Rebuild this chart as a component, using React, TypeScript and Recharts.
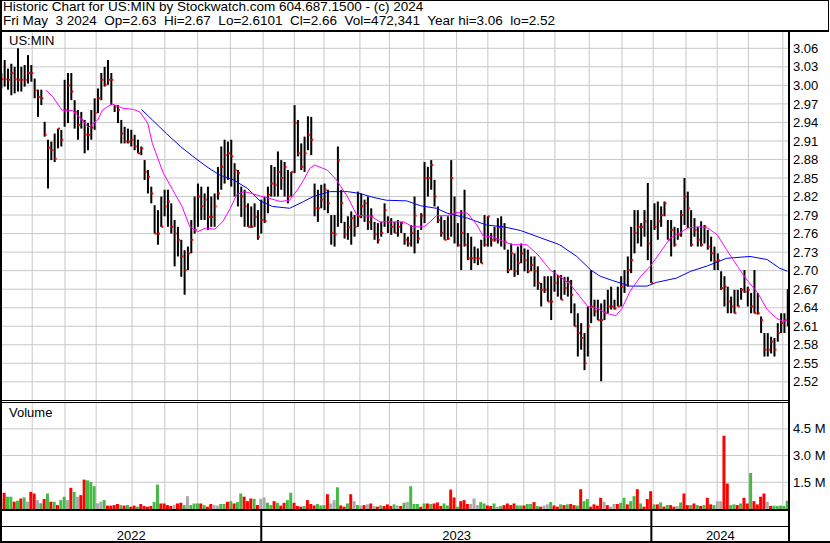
import React from "react";
import {
  ComposedChart,
  LineChart,
  Bar,
  Line,
  Scatter,
  XAxis,
  YAxis,
  CartesianGrid,
  Cell,
} from "recharts";

// one bar every ~2 trading days, May 3 2022 .. May 3 2024 (day 0 .. 504)
const LAST_DAY = 504;

const highs = [
  3.020, 3.041, 3.027, 3.035, 3.030, 3.060, 3.030, 3.033, 3.049, 3.033,
  3.011, 2.993, 2.993, 2.941, 2.912, 2.909, 2.922, 2.930, 2.928, 3.009,
  3.020, 3.020, 2.976, 2.960, 2.957, 2.944, 2.939, 2.960, 2.979, 2.995,
  3.020, 3.030, 3.041, 3.020, 2.968, 2.968, 2.944, 2.933, 2.930, 2.928,
  2.920, 2.912, 2.901, 2.879, 2.863, 2.836, 2.806, 2.798, 2.820, 2.831,
  2.831, 2.809, 2.782, 2.771, 2.750, 2.733, 2.739, 2.782, 2.820, 2.841,
  2.836, 2.825, 2.836, 2.820, 2.825, 2.868, 2.901, 2.912, 2.909, 2.912,
  2.874, 2.863, 2.836, 2.831, 2.809, 2.804, 2.809, 2.798, 2.815, 2.820,
  2.836, 2.871, 2.868, 2.893, 2.879, 2.876, 2.863, 2.860, 2.968, 2.944,
  2.906, 2.917, 2.950, 2.949, 2.841, 2.831, 2.839, 2.841, 2.831, 2.790,
  2.790, 2.901, 2.831, 2.779, 2.788, 2.796, 2.790, 2.828, 2.825, 2.815,
  2.820, 2.801, 2.779, 2.777, 2.779, 2.809, 2.788, 2.785, 2.779, 2.782,
  2.779, 2.761, 2.755, 2.774, 2.820, 2.766, 2.793, 2.876, 2.868, 2.879,
  2.847, 2.804, 2.788, 2.782, 2.788, 2.879, 2.820, 2.777, 2.798, 2.831,
  2.761, 2.755, 2.739, 2.736, 2.750, 2.790, 2.788, 2.761, 2.771, 2.785,
  2.788, 2.777, 2.734, 2.744, 2.728, 2.739, 2.744, 2.736, 2.734, 2.723,
  2.723, 2.707, 2.680, 2.691, 2.691, 2.691, 2.701, 2.693, 2.693, 2.690,
  2.690, 2.685, 2.647, 2.631, 2.615, 2.599, 2.642, 2.701, 2.653, 2.653,
  2.647, 2.653, 2.669, 2.674, 2.653, 2.674, 2.691, 2.701, 2.723, 2.771,
  2.798, 2.798, 2.777, 2.798, 2.842, 2.782, 2.809, 2.812, 2.804, 2.812,
  2.782, 2.782, 2.771, 2.769, 2.798, 2.850, 2.828, 2.798, 2.785, 2.771,
  2.780, 2.774, 2.766, 2.755, 2.739, 2.728, 2.699, 2.691, 2.674, 2.658,
  2.669, 2.669, 2.672, 2.701, 2.674, 2.664, 2.701, 2.664, 2.626, 2.599,
  2.599, 2.593, 2.591, 2.615, 2.631, 2.631, 2.670,
];

const lows = [
  2.995, 2.998, 2.993, 2.984, 2.987, 2.990, 2.990, 2.998, 3.003, 3.006,
  2.979, 2.949, 2.968, 2.917, 2.833, 2.879, 2.876, 2.898, 2.901, 2.933,
  2.939, 2.976, 2.930, 2.912, 2.930, 2.890, 2.895, 2.912, 2.928, 2.955,
  2.976, 2.998, 3.001, 2.968, 2.957, 2.939, 2.906, 2.906, 2.906, 2.901,
  2.895, 2.890, 2.887, 2.847, 2.825, 2.809, 2.760, 2.742, 2.771, 2.788,
  2.771, 2.760, 2.707, 2.723, 2.690, 2.661, 2.701, 2.728, 2.760, 2.771,
  2.782, 2.782, 2.766, 2.771, 2.771, 2.815, 2.831, 2.841, 2.847, 2.836,
  2.820, 2.804, 2.787, 2.771, 2.771, 2.769, 2.771, 2.750, 2.760, 2.777,
  2.793, 2.820, 2.820, 2.820, 2.831, 2.820, 2.809, 2.820, 2.858, 2.885,
  2.863, 2.860, 2.895, 2.887, 2.788, 2.779, 2.801, 2.798, 2.793, 2.742,
  2.739, 2.771, 2.777, 2.752, 2.750, 2.742, 2.755, 2.771, 2.785, 2.779,
  2.766, 2.766, 2.750, 2.744, 2.755, 2.771, 2.761, 2.758, 2.761, 2.755,
  2.761, 2.742, 2.739, 2.739, 2.728, 2.744, 2.766, 2.777, 2.820, 2.831,
  2.804, 2.777, 2.755, 2.750, 2.750, 2.755, 2.744, 2.739, 2.701, 2.739,
  2.717, 2.701, 2.712, 2.709, 2.712, 2.739, 2.739, 2.739, 2.747, 2.744,
  2.739, 2.734, 2.696, 2.701, 2.690, 2.693, 2.712, 2.699, 2.696, 2.699,
  2.674, 2.669, 2.642, 2.664, 2.650, 2.620, 2.666, 2.658, 2.653, 2.661,
  2.658, 2.631, 2.610, 2.561, 2.572, 2.539, 2.561, 2.615, 2.626, 2.620,
  2.521, 2.620, 2.631, 2.637, 2.637, 2.642, 2.642, 2.664, 2.674, 2.696,
  2.728, 2.744, 2.739, 2.755, 2.717, 2.680, 2.766, 2.750, 2.771, 2.788,
  2.750, 2.723, 2.739, 2.750, 2.755, 2.774, 2.769, 2.739, 2.755, 2.739,
  2.739, 2.744, 2.734, 2.715, 2.701, 2.701, 2.669, 2.642, 2.631, 2.631,
  2.631, 2.642, 2.653, 2.664, 2.642, 2.631, 2.631, 2.629, 2.599, 2.561,
  2.561, 2.566, 2.561, 2.585, 2.599, 2.599, 2.610,
];

const closes = [
  3.010, 3.010, 3.009, 3.020, 3.010, 3.009, 3.009, 3.009, 3.020, 3.020,
  2.992, 2.981, 2.979, 2.920, 2.899, 2.895, 2.881, 2.930, 2.912, 2.960,
  3.000, 2.990, 2.957, 2.936, 2.944, 2.920, 2.920, 2.932, 2.955, 2.979,
  3.009, 3.001, 3.009, 3.009, 2.966, 2.960, 2.922, 2.909, 2.909, 2.912,
  2.901, 2.890, 2.898, 2.860, 2.852, 2.825, 2.760, 2.760, 2.771, 2.804,
  2.812, 2.771, 2.760, 2.750, 2.723, 2.701, 2.728, 2.750, 2.766, 2.820,
  2.804, 2.815, 2.787, 2.787, 2.804, 2.825, 2.868, 2.887, 2.890, 2.885,
  2.863, 2.858, 2.820, 2.804, 2.771, 2.771, 2.787, 2.755, 2.782, 2.780,
  2.823, 2.841, 2.839, 2.860, 2.850, 2.868, 2.820, 2.860, 2.939, 2.890,
  2.868, 2.890, 2.920, 2.912, 2.801, 2.801, 2.815, 2.831, 2.809, 2.761,
  2.759, 2.879, 2.809, 2.759, 2.770, 2.785, 2.771, 2.788, 2.804, 2.809,
  2.779, 2.788, 2.759, 2.750, 2.761, 2.798, 2.779, 2.771, 2.761, 2.771,
  2.777, 2.750, 2.744, 2.761, 2.789, 2.752, 2.789, 2.850, 2.850, 2.871,
  2.820, 2.782, 2.761, 2.750, 2.752, 2.850, 2.793, 2.741, 2.761, 2.742,
  2.720, 2.720, 2.720, 2.720, 2.712, 2.742, 2.788, 2.750, 2.750, 2.770,
  2.771, 2.747, 2.701, 2.728, 2.699, 2.712, 2.728, 2.717, 2.699, 2.709,
  2.699, 2.680, 2.669, 2.669, 2.650, 2.650, 2.680, 2.690, 2.653, 2.672,
  2.682, 2.661, 2.610, 2.599, 2.591, 2.550, 2.610, 2.642, 2.634, 2.620,
  2.620, 2.631, 2.642, 2.642, 2.639, 2.642, 2.674, 2.677, 2.701, 2.717,
  2.761, 2.771, 2.771, 2.780, 2.744, 2.680, 2.771, 2.780, 2.790, 2.809,
  2.750, 2.766, 2.742, 2.758, 2.790, 2.820, 2.801, 2.742, 2.766, 2.750,
  2.742, 2.771, 2.739, 2.728, 2.715, 2.717, 2.672, 2.674, 2.650, 2.642,
  2.631, 2.642, 2.669, 2.666, 2.669, 2.642, 2.631, 2.631, 2.620, 2.572,
  2.572, 2.585, 2.572, 2.599, 2.615, 2.620, 2.660,
];

// volume in millions
const volumes = [
  0.59, 0.91, 0.69, 0.69, 0.41, 0.46, 0.59, 0.65, 0.41, 0.96,
  0.87, 0.50, 0.32, 0.56, 0.87, 0.41, 0.41, 0.22, 0.50, 0.69,
  0.50, 1.19, 0.96, 0.69, 0.78, 1.65, 1.61, 1.52, 1.28, 0.32,
  0.41, 0.50, 0.19, 0.19, 0.22, 0.28, 0.22, 0.19, 0.22, 0.13,
  0.19, 0.13, 0.28, 0.17, 0.13, 0.17, 0.39, 1.37, 0.31, 0.31,
  0.22, 0.17, 0.22, 0.31, 0.35, 0.22, 0.72, 0.22, 0.31, 0.31,
  0.31, 0.22, 0.13, 0.28, 0.22, 0.19, 0.28, 0.28, 0.41, 0.44,
  0.31, 0.39, 0.87, 0.69, 0.44, 0.59, 0.57, 0.22, 0.57, 0.65,
  0.35, 0.22, 0.44, 0.35, 0.19, 0.35, 0.50, 0.91, 0.35, 0.17,
  0.13, 0.17, 0.50, 0.28, 0.20, 0.28, 0.20, 0.22, 0.83, 0.31,
  0.50, 1.22, 0.20, 0.13, 0.31, 0.83, 0.44, 0.22, 0.19, 0.22,
  0.26, 0.31, 0.17, 0.13, 0.20, 0.17, 0.26, 0.17, 0.26, 0.20,
  0.17, 0.35, 0.39, 1.28, 0.28, 0.28, 0.13, 0.31, 0.31, 0.28,
  0.31, 0.37, 0.17, 0.31, 0.20, 1.09, 0.65, 0.13, 0.44, 0.50,
  0.28, 0.28, 0.59, 0.22, 0.39, 0.31, 0.20, 0.17, 0.31, 0.13,
  0.17, 0.22, 0.31, 0.22, 0.31, 0.20, 0.20, 0.20, 0.28, 0.28,
  0.39, 0.17, 0.13, 0.20, 0.26, 0.39, 0.20, 0.13, 0.26, 0.22,
  0.26, 0.28, 0.22, 0.19, 1.11, 0.44, 0.56, 0.13, 0.26, 0.19,
  0.63, 0.41, 0.22, 0.13, 0.28, 0.28, 0.35, 0.63, 0.26, 0.44,
  0.72, 1.11, 0.31, 0.13, 0.56, 1.00, 0.26, 0.26, 0.37, 0.13,
  0.22, 0.22, 0.13, 0.17, 0.37, 0.87, 0.22, 0.22, 0.31, 0.22,
  0.17, 0.22, 0.63, 0.26, 0.22, 0.44, 0.44, 4.11, 1.43, 0.22,
  0.26, 0.22, 0.31, 0.63, 0.31, 2.02, 0.44, 0.26, 0.69, 0.87,
  0.41, 0.17, 0.19, 0.17, 0.19, 0.17, 0.47,
];

// r = down, g = up, n = unchanged
const volColors =
  "nrggrgrgnr" + "rngrgrgrgg" + "nrgnrrgggn" + "ngrrrrgrgr" + "rgrrrrggrr" +
  "rrnrrgnggg" + "rgrrnnggrg" + "rggrrrgrnn" + "ggrgrrggrr" + "rgrrrgggrn" +
  "ngrrgrngnr" + "nrnrgrrrgn" + "rgngggrgrg" + "rrrggrrgrr" + "rnnnggrrgn" +
  "grrrrggrgg" + "rgrnngrrgr" + "grrgrggrrr" + "rnrnnrggrg" + "grgrrrgrgr" +
  "grrngrrgrg" + "rgrrgnnrrg" + "grgrrgrrrr" + "nrggggg";

// moving averages: [trading day, value]
const fastAvg = [
  [29, 2.992], [33, 2.982], [39, 2.960], [46, 2.959], [51, 2.947], [56, 2.932],
  [62, 2.944], [65, 2.960], [71, 2.970], [74, 2.967], [78, 2.963], [85, 2.961],
  [89, 2.957], [94, 2.939], [97, 2.906], [104, 2.858], [110, 2.831], [116, 2.804],
  [121, 2.771], [126, 2.763], [131, 2.769], [137, 2.767], [142, 2.779], [147, 2.801],
  [151, 2.823], [156, 2.828], [162, 2.824], [166, 2.821], [172, 2.817], [179, 2.812],
  [185, 2.814], [190, 2.831], [194, 2.847], [198, 2.866], [201, 2.871], [209, 2.863],
  [215, 2.847], [222, 2.820], [228, 2.790], [237, 2.788], [243, 2.779], [251, 2.779],
  [258, 2.779], [264, 2.771], [271, 2.771], [275, 2.779], [279, 2.789], [286, 2.789],
  [292, 2.794], [299, 2.793], [305, 2.774], [309, 2.756], [315, 2.755], [322, 2.747],
  [328, 2.742], [337, 2.742], [344, 2.726], [352, 2.701], [358, 2.691], [365, 2.677],
  [371, 2.658], [376, 2.642], [382, 2.639], [388, 2.631], [394, 2.627], [398, 2.639],
  [403, 2.666], [410, 2.691], [416, 2.707], [422, 2.728], [429, 2.753], [435, 2.761],
  [440, 2.769], [448, 2.771], [453, 2.769], [459, 2.758], [465, 2.734], [472, 2.707],
  [478, 2.685], [485, 2.664], [491, 2.637], [497, 2.623], [501, 2.618], [504, 2.620],
];

const slowAvg = [
  [90, 2.961], [97, 2.944], [106, 2.922], [115, 2.901], [123, 2.885], [132, 2.868],
  [140, 2.855], [149, 2.847], [158, 2.833], [166, 2.813], [174, 2.804], [185, 2.801],
  [194, 2.812], [200, 2.820], [211, 2.828], [222, 2.828], [230, 2.825], [238, 2.819],
  [247, 2.814], [260, 2.813], [269, 2.805], [279, 2.801], [286, 2.793], [299, 2.785],
  [311, 2.774], [322, 2.771], [333, 2.765], [346, 2.753], [358, 2.742], [369, 2.723],
  [378, 2.701], [384, 2.691], [392, 2.684], [403, 2.675], [414, 2.675], [420, 2.681],
  [433, 2.688], [442, 2.699], [453, 2.708], [465, 2.720], [480, 2.723], [491, 2.718],
  [499, 2.704], [504, 2.699],
];

const priceTicks = [
  2.52, 2.55, 2.58, 2.61, 2.64, 2.67, 2.7, 2.73, 2.76, 2.79,
  2.82, 2.85, 2.88, 2.91, 2.94, 2.97, 3.0, 3.03, 3.06,
];
const volTicks = [1.5, 3.0, 4.5];

// first trading day of each month
const monthStarts = [
  20, 41, 61, 84, 105, 126, 147, 168, 188, 207, 230, 249,
  271, 292, 312, 335, 355, 377, 398, 418, 439, 459, 479, 501,
];
const yearBreaks = [167, 417];
const yearLabels = ["2022", "2023", "2024"];

const W = 830;
const PRICE_H = 368;
const VOL_H = 106;
const AXIS_W = 41;
const X_DOMAIN: [number, number] = [0, 505];
const PRICE_DOMAIN: [number, number] = [2.4906, 3.0864];
const VOL_DOMAIN: [number, number] = [0, 5.95];
const GRID = "#c8c8c8";
const FONT = '"Liberation Sans", Arial, Helvetica, sans-serif';
const COLORS: Record<string, string> = { r: "#ff0000", g: "#44b944", n: "#aaaaaa" };

const bars = highs.map((hi, i) => ({
  day: (i * LAST_DAY) / (highs.length - 1),
  hi,
  lo: lows[i],
  close: closes[i],
  range: [lows[i], hi],
  vol: volumes[i],
  color: COLORS[volColors[i]] || COLORS.n,
}));

const fastLine = fastAvg.map(([day, v]) => ({ day, v }));
const slowLine = slowAvg.map(([day, v]) => ({ day, v }));

// year strip: separators as full-height bars, labels centred between them
const edges = [X_DOMAIN[0], ...yearBreaks, X_DOMAIN[1]];
const stripRows: any[] = [
  ...yearBreaks.map((day) => ({ day, span: [0, 1] })),
  ...yearLabels.map((label, i) => ({ day: (edges[i] + edges[i + 1]) / 2, pos: 0, label })),
].sort((a, b) => a.day - b.day);

// hi-lo stick with the close as a small red tick
const OhlcBar = (props: any) => {
  const { x, y, width, height } = props;
  const p = props.payload || props;
  if (x == null || y == null || !p) return null;
  const top = Math.min(y, y + height);
  const h = Math.max(Math.abs(height), 1);
  const span = p.hi - p.lo;
  const yc = span > 0 ? top + ((p.hi - p.close) / span) * h : top;
  return (
    <g>
      <rect x={x} y={top} width={width} height={h} fill="#000" />
      <rect x={x + width - 1} y={yc - 1} width={2} height={2} fill="#ff0000" />
    </g>
  );
};

const YearText = (props: any) => {
  const { cx, cy, payload } = props;
  if (!payload || !payload.label || cx == null || cy == null || isNaN(cy)) return null;
  return (
    <text x={cx} y={cy - 2} textAnchor="middle" fontSize={13} fill="#000">
      {payload.label}
    </text>
  );
};

function AvgOverlay({ data, color }: { data: any[]; color: string }) {
  return (
    <LineChart
      width={W}
      height={PRICE_H}
      data={data}
      margin={{ top: 0, right: AXIS_W, bottom: 0, left: 1 }}
    >
      <XAxis type="number" dataKey="day" domain={X_DOMAIN} hide />
      <YAxis domain={PRICE_DOMAIN} hide allowDataOverflow />
      <Line
        type="linear"
        dataKey="v"
        stroke={color}
        strokeWidth={1}
        dot={false}
        isAnimationActive={false}
      />
    </LineChart>
  );
}

const Rule = ({ l, t, w, h }: { l: number; t: number; w: number; h: number }) => (
  <div style={{ position: "absolute", left: l, top: t, width: w, height: h, background: "#000" }} />
);

const abs = (left: number, top: number): React.CSSProperties => ({
  position: "absolute",
  left,
  top,
});

export default function App() {
  return (
    <div
      style={{
        position: "absolute",
        left: 0,
        top: 0,
        width: W,
        height: 543,
        background: "#fff",
        fontFamily: FONT,
        fontSize: 13,
        color: "#000",
        overflow: "hidden",
      }}
    >
      {/* header box */}
      <div
        style={{
          ...abs(0, 0),
          width: 829,
          height: 32,
          boxSizing: "border-box",
          borderTop: "1px solid #000",
          borderRight: "1px solid #000",
          borderBottom: "2px solid #000",
        }}
      />
      <div style={{ ...abs(3, 0), fontSize: 13.5, lineHeight: "13px", whiteSpace: "pre" }}>
        Historic Chart for US:MIN by Stockwatch.com 604.687.1500 - (c) 2024
      </div>
      <div style={{ ...abs(3, 14), fontSize: 13.5, lineHeight: "14px", whiteSpace: "pre" }}>
        {"Fri May  3 2024  Op=2.63  Hi=2.67  Lo=2.6101  Cl=2.66  Vol=472,341  Year hi=3.06  lo=2.52"}
      </div>

      {/* price panel */}
      <div style={abs(0, 32)}>
        <ComposedChart
          width={W}
          height={PRICE_H}
          data={bars}
          margin={{ top: 0, right: 0, bottom: 0, left: 1 }}
        >
          <CartesianGrid
            stroke={GRID}
            horizontalValues={priceTicks}
            verticalValues={monthStarts}
          />
          <XAxis type="number" dataKey="day" domain={X_DOMAIN} hide />
          <YAxis
            orientation="right"
            width={AXIS_W}
            domain={PRICE_DOMAIN}
            ticks={priceTicks}
            interval={0}
            allowDataOverflow
            axisLine={false}
            tickLine={false}
            tickSize={0}
            tickMargin={4}
            tick={{ fill: "#000", fontSize: 13 }}
            tickFormatter={(v: number) => v.toFixed(2)}
          />
          <Bar dataKey="range" barSize={2} shape={<OhlcBar />} isAnimationActive={false} />
        </ComposedChart>
      </div>
      <div style={abs(0, 32)}>
        <AvgOverlay data={slowLine} color="#0000ff" />
      </div>
      <div style={abs(0, 32)}>
        <AvgOverlay data={fastLine} color="#ff00ff" />
      </div>
      <div style={{ ...abs(9, 34), lineHeight: "14px" }}>US:MIN</div>

      {/* volume panel */}
      <div style={abs(0, 403)}>
        <ComposedChart
          width={W}
          height={VOL_H}
          data={bars}
          margin={{ top: 0, right: 0, bottom: 0, left: 1 }}
        >
          <CartesianGrid
            stroke={GRID}
            horizontalValues={volTicks}
            verticalValues={monthStarts}
          />
          <XAxis type="number" dataKey="day" domain={X_DOMAIN} hide />
          <YAxis
            orientation="right"
            width={AXIS_W}
            domain={VOL_DOMAIN}
            ticks={volTicks}
            interval={0}
            allowDataOverflow
            axisLine={false}
            tickLine={false}
            tickSize={0}
            tickMargin={4}
            tick={{ fill: "#000", fontSize: 13 }}
            tickFormatter={(v: number) => `${v.toFixed(1)} M`}
          />
          <Bar dataKey="vol" barSize={3} isAnimationActive={false}>
            {bars.map((b, i) => (
              <Cell key={i} fill={b.color} />
            ))}
          </Bar>
        </ComposedChart>
      </div>
      <div style={{ ...abs(9, 406), lineHeight: "14px" }}>Volume</div>

      {/* year strip */}
      <div style={abs(0, 510)}>
        <ComposedChart
          width={W}
          height={32}
          data={stripRows}
          margin={{ top: 0, right: AXIS_W, bottom: 0, left: 1 }}
        >
          <XAxis type="number" dataKey="day" domain={X_DOMAIN} hide />
          <YAxis domain={[0, 1]} hide allowDataOverflow />
          <Bar dataKey="span" barSize={2} fill="#000" isAnimationActive={false} />
          <Scatter dataKey="pos" shape={<YearText />} isAnimationActive={false} />
        </ComposedChart>
      </div>

      {/* frame rules */}
      <Rule l={0} t={0} w={2} h={543} />
      <Rule l={788} t={30} w={2} h={513} />
      <Rule l={0} t={400} w={790} h={1} />
      <Rule l={0} t={402} w={790} h={1} />
      <Rule l={0} t={509} w={790} h={2} />
      <Rule l={0} t={526} w={790} h={1} />
      <Rule l={0} t={541} w={W} h={2} />
    </div>
  );
}
